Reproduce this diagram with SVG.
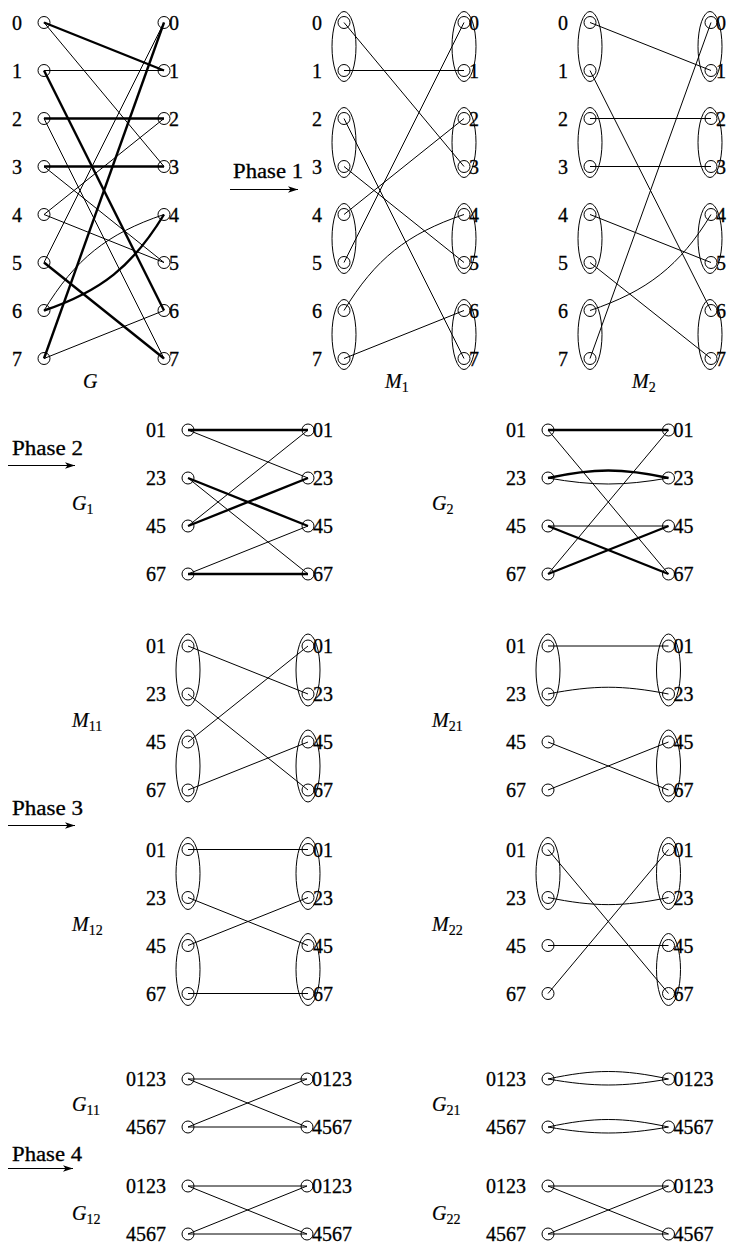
<svg xmlns="http://www.w3.org/2000/svg" width="734" height="1245" viewBox="0 0 734 1245">
<style>
  text { font-family: "Liberation Serif", "Times New Roman", serif; font-size: 20px; fill: #000; stroke: #000; stroke-width: 0.3px; }
  .lb { text-anchor: end; }
  .rb { text-anchor: start; }
  .it { font-style: italic; stroke-width: 0.2px; }
  .sub { font-size: 14px; font-style: normal; }
  .node circle { fill: none; stroke: #000; stroke-width: 1; }
  .grp { fill: none; stroke: #000; stroke-width: 1; }
  .e { fill: none; stroke: #000; stroke-width: 1; }
  .t { stroke-width: 2.4; }
  .ph { fill: none; stroke: #000; stroke-width: 1; }
</style>
<defs>
  <marker id="stealth" viewBox="-11 -4 12 8" markerWidth="12" markerHeight="8" refX="0" refY="0" orient="auto" markerUnits="userSpaceOnUse">
    <path d="M0,0 L-10,-3.2 L-7.5,0 L-10,3.2 Z" fill="#000"/>
  </marker>
</defs>
<rect width="734" height="1245" fill="#fff"/>

<!-- ===== Phase arrows ===== -->
<g id="phase-labels">
  <text x="233" y="178" textLength="70" lengthAdjust="spacingAndGlyphs">Phase 1</text>
  <text x="12" y="455" textLength="71" lengthAdjust="spacingAndGlyphs">Phase 2</text>
  <text x="12" y="815" textLength="71" lengthAdjust="spacingAndGlyphs">Phase 3</text>
  <text x="12" y="1161" textLength="70" lengthAdjust="spacingAndGlyphs">Phase 4</text>
</g>
<g id="phase-arrows">
  <line class="ph" x1="230" y1="189.5" x2="298" y2="189.5" marker-end="url(#stealth)"/>
  <line class="ph" x1="8" y1="465.5" x2="75" y2="465.5" marker-end="url(#stealth)"/>
  <line class="ph" x1="8" y1="825.5" x2="75" y2="825.5" marker-end="url(#stealth)"/>
  <line class="ph" x1="8" y1="1168.5" x2="73" y2="1168.5" marker-end="url(#stealth)"/>
</g>

<!-- ===== Graph names ===== -->
<g id="graph-names">
  <text class="it" x="83" y="388">G</text>
  <text class="it" x="385" y="388">M<tspan class="sub" dy="3.5">1</tspan></text>
  <text class="it" x="632" y="388">M<tspan class="sub" dy="3.5">2</tspan></text>
  <text class="it" x="72" y="510">G<tspan class="sub" dy="3.5">1</tspan></text>
  <text class="it" x="432" y="510">G<tspan class="sub" dy="3.5">2</tspan></text>
  <text class="it" x="72" y="727">M<tspan class="sub" dy="3.5">11</tspan></text>
  <text class="it" x="432" y="727">M<tspan class="sub" dy="3.5">21</tspan></text>
  <text class="it" x="72" y="931">M<tspan class="sub" dy="3.5">12</tspan></text>
  <text class="it" x="432" y="931">M<tspan class="sub" dy="3.5">22</tspan></text>
  <text class="it" x="72" y="1111">G<tspan class="sub" dy="3.5">11</tspan></text>
  <text class="it" x="432" y="1111">G<tspan class="sub" dy="3.5">21</tspan></text>
  <text class="it" x="72" y="1220">G<tspan class="sub" dy="3.5">12</tspan></text>
  <text class="it" x="432" y="1220">G<tspan class="sub" dy="3.5">22</tspan></text>
</g>

<!-- ===== Grouping ellipses ===== -->
<g id="groupings">
  <!-- M1 -->
  <ellipse class="grp" cx="344" cy="46.5" rx="12" ry="35"/>
  <ellipse class="grp" cx="344" cy="142.5" rx="12" ry="35"/>
  <ellipse class="grp" cx="344" cy="238.5" rx="12" ry="35"/>
  <ellipse class="grp" cx="344" cy="334.5" rx="12" ry="35"/>
  <ellipse class="grp" cx="464" cy="46.5" rx="12" ry="35"/>
  <ellipse class="grp" cx="464" cy="142.5" rx="12" ry="35"/>
  <ellipse class="grp" cx="464" cy="238.5" rx="12" ry="35"/>
  <ellipse class="grp" cx="464" cy="334.5" rx="12" ry="35"/>
  <!-- M2 -->
  <ellipse class="grp" cx="590" cy="46.5" rx="12" ry="35"/>
  <ellipse class="grp" cx="590" cy="142.5" rx="12" ry="35"/>
  <ellipse class="grp" cx="590" cy="238.5" rx="12" ry="35"/>
  <ellipse class="grp" cx="590" cy="334.5" rx="12" ry="35"/>
  <ellipse class="grp" cx="710" cy="46.5" rx="12" ry="35"/>
  <ellipse class="grp" cx="710" cy="142.5" rx="12" ry="35"/>
  <ellipse class="grp" cx="710" cy="238.5" rx="12" ry="35"/>
  <ellipse class="grp" cx="710" cy="334.5" rx="12" ry="35"/>
  <!-- M11 -->
  <ellipse class="grp" cx="188" cy="670" rx="12" ry="36"/>
  <ellipse class="grp" cx="188" cy="766" rx="12" ry="36"/>
  <ellipse class="grp" cx="308" cy="670" rx="12" ry="36"/>
  <ellipse class="grp" cx="308" cy="766" rx="12" ry="36"/>
  <!-- M12 -->
  <ellipse class="grp" cx="188" cy="873.5" rx="12" ry="36"/>
  <ellipse class="grp" cx="188" cy="969.5" rx="12" ry="36"/>
  <ellipse class="grp" cx="308" cy="873.5" rx="12" ry="36"/>
  <ellipse class="grp" cx="308" cy="969.5" rx="12" ry="36"/>
  <!-- M21 -->
  <ellipse class="grp" cx="548" cy="670" rx="12" ry="36"/>
  <ellipse class="grp" cx="668.5" cy="670" rx="12" ry="36"/>
  <ellipse class="grp" cx="668.5" cy="766" rx="12" ry="36"/>
  <!-- M22 -->
  <ellipse class="grp" cx="548" cy="873.5" rx="12" ry="36"/>
  <ellipse class="grp" cx="668.5" cy="873.5" rx="12" ry="36"/>
  <ellipse class="grp" cx="668.5" cy="969.5" rx="12" ry="36"/>
</g>

<!-- ===== Connectors ===== -->
<g id="connectors">
  <!-- G -->
  <path class="e" d="M44,22.5 L164,166.5"/>
  <path class="e" d="M44,70.5 L164,70.5"/>
  <path class="e" d="M44,118.5 L164,358.5"/>
  <path class="e" d="M44,166.5 L164,262.5"/>
  <path class="e" d="M44,214.5 L164,118.5"/>
  <path class="e" d="M44,214.5 L164,262.5"/>
  <path class="e" d="M44,262.5 L164,22.5"/>
  <path class="e" d="M44,310.5 C75.3,259 106.9,233.8 164,214.5"/>
  <path class="e" d="M44,358.5 L164,310.5"/>
  <path class="e t" d="M44,22.5 L164,70.5"/>
  <path class="e t" d="M44,70.5 L164,310.5"/>
  <path class="e t" d="M44,118.5 L164,118.5"/>
  <path class="e t" d="M44,166.5 L164,166.5"/>
  <path class="e t" d="M44,262.5 L164,358.5"/>
  <path class="e t" d="M44,310.5 C101.1,291.2 132.7,266 164,214.5"/>
  <path class="e t" d="M44,358.5 L164,22.5"/>
  <!-- M1 -->
  <path class="e" d="M344,22.5 L464,166.5"/>
  <path class="e" d="M344,70.5 L464,70.5"/>
  <path class="e" d="M344,118.5 L464,358.5"/>
  <path class="e" d="M344,166.5 L464,262.5"/>
  <path class="e" d="M344,214.5 L464,118.5"/>
  <path class="e" d="M344,262.5 L464,22.5"/>
  <path class="e" d="M344,310.5 C375.3,259 406.9,233.8 464,214.5"/>
  <path class="e" d="M344,358.5 L464,310.5"/>
  <!-- M2 -->
  <path class="e" d="M590,22.5 L711,70.5"/>
  <path class="e" d="M590,70.5 L711,310.5"/>
  <path class="e" d="M590,118.5 L711,118.5"/>
  <path class="e" d="M590,166.5 L711,166.5"/>
  <path class="e" d="M590,214.5 L711,262.5"/>
  <path class="e" d="M590,262.5 L711,358.5"/>
  <path class="e" d="M590,310.5 C647.1,291.2 679.7,266 711,214.5"/>
  <path class="e" d="M590,358.5 L711,22.5"/>
  <!-- G1 -->
  <path class="e t" d="M188,430 L308,430"/>
  <path class="e t" d="M188,478 L308,526"/>
  <path class="e t" d="M188,526 L308,478"/>
  <path class="e t" d="M188,574 L308,574"/>
  <path class="e" d="M188,430 L308,478"/>
  <path class="e" d="M188,478 L308,574"/>
  <path class="e" d="M188,526 L308,430"/>
  <path class="e" d="M188,574 L308,526"/>
  <!-- G2 -->
  <path class="e t" d="M548,430 L668.5,430"/>
  <path class="e t" d="M548,478 C594,468 622.5,468 668.5,478"/>
  <path class="e t" d="M548,526 L668.5,574"/>
  <path class="e t" d="M548,574 L668.5,526"/>
  <path class="e" d="M548,430 L668.5,574"/>
  <path class="e" d="M548,478 C594,486 622.5,486 668.5,478"/>
  <path class="e" d="M548,526 L668.5,526"/>
  <path class="e" d="M548,574 L668.5,430"/>
  <!-- M11 -->
  <path class="e" d="M188,646 L308,694"/>
  <path class="e" d="M188,694 L308,790"/>
  <path class="e" d="M188,742 L308,646"/>
  <path class="e" d="M188,790 L308,742"/>
  <!-- M12 -->
  <path class="e" d="M188,849.5 L308,849.5"/>
  <path class="e" d="M188,897.5 L308,945.5"/>
  <path class="e" d="M188,945.5 L308,897.5"/>
  <path class="e" d="M188,993.5 L308,993.5"/>
  <!-- M21 -->
  <path class="e" d="M548,646 L668.5,646"/>
  <path class="e" d="M548,694 C594,685 622.5,685 668.5,694"/>
  <path class="e" d="M548,742 L668.5,790"/>
  <path class="e" d="M548,790 L668.5,742"/>
  <!-- M22 -->
  <path class="e" d="M548,849.5 L668.5,993.5"/>
  <path class="e" d="M548,897.5 C594,907 622.5,907 668.5,897.5"/>
  <path class="e" d="M548,945.5 L668.5,945.5"/>
  <path class="e" d="M548,993.5 L668.5,849.5"/>
  <!-- G11 -->
  <path class="e" d="M188,1079 L307,1079"/>
  <path class="e" d="M188,1079 L307,1127"/>
  <path class="e" d="M188,1127 L307,1079"/>
  <path class="e" d="M188,1127 L307,1127"/>
  <!-- G12 -->
  <path class="e" d="M188,1186 L307,1186"/>
  <path class="e" d="M188,1186 L307,1234"/>
  <path class="e" d="M188,1234 L307,1186"/>
  <path class="e" d="M188,1234 L307,1234"/>
  <!-- G21 -->
  <path class="e" d="M548,1079 C594,1069 622.5,1069 668.5,1079"/>
  <path class="e" d="M548,1079 C594,1087 622.5,1087 668.5,1079"/>
  <path class="e" d="M548,1127 C594,1117 622.5,1117 668.5,1127"/>
  <path class="e" d="M548,1127 C594,1135 622.5,1135 668.5,1127"/>
  <!-- G22 -->
  <path class="e" d="M548,1186 L668.5,1186"/>
  <path class="e" d="M548,1186 L668.5,1234"/>
  <path class="e" d="M548,1234 L668.5,1186"/>
  <path class="e" d="M548,1234 L668.5,1234"/>
</g>

<!-- ===== Nodes: G ===== -->
<g id="G-L0" class="node"><circle cx="44" cy="22.5" r="6"/><text class="lb" x="22" y="29.5">0</text></g>
<g id="G-L1" class="node"><circle cx="44" cy="70.5" r="6"/><text class="lb" x="22" y="77.5">1</text></g>
<g id="G-L2" class="node"><circle cx="44" cy="118.5" r="6"/><text class="lb" x="22" y="125.5">2</text></g>
<g id="G-L3" class="node"><circle cx="44" cy="166.5" r="6"/><text class="lb" x="22" y="173.5">3</text></g>
<g id="G-L4" class="node"><circle cx="44" cy="214.5" r="6"/><text class="lb" x="22" y="221.5">4</text></g>
<g id="G-L5" class="node"><circle cx="44" cy="262.5" r="6"/><text class="lb" x="22" y="269.5">5</text></g>
<g id="G-L6" class="node"><circle cx="44" cy="310.5" r="6"/><text class="lb" x="22" y="317.5">6</text></g>
<g id="G-L7" class="node"><circle cx="44" cy="358.5" r="6"/><text class="lb" x="22" y="365.5">7</text></g>
<g id="G-R0" class="node"><circle cx="164" cy="22.5" r="6"/><text class="rb" x="169" y="29.5">0</text></g>
<g id="G-R1" class="node"><circle cx="164" cy="70.5" r="6"/><text class="rb" x="169" y="77.5">1</text></g>
<g id="G-R2" class="node"><circle cx="164" cy="118.5" r="6"/><text class="rb" x="169" y="125.5">2</text></g>
<g id="G-R3" class="node"><circle cx="164" cy="166.5" r="6"/><text class="rb" x="169" y="173.5">3</text></g>
<g id="G-R4" class="node"><circle cx="164" cy="214.5" r="6"/><text class="rb" x="169" y="221.5">4</text></g>
<g id="G-R5" class="node"><circle cx="164" cy="262.5" r="6"/><text class="rb" x="169" y="269.5">5</text></g>
<g id="G-R6" class="node"><circle cx="164" cy="310.5" r="6"/><text class="rb" x="169" y="317.5">6</text></g>
<g id="G-R7" class="node"><circle cx="164" cy="358.5" r="6"/><text class="rb" x="169" y="365.5">7</text></g>

<!-- ===== Nodes: M1 ===== -->
<g id="M1-L0" class="node"><circle cx="344" cy="22.5" r="6"/><text class="lb" x="322" y="29.5">0</text></g>
<g id="M1-L1" class="node"><circle cx="344" cy="70.5" r="6"/><text class="lb" x="322" y="77.5">1</text></g>
<g id="M1-L2" class="node"><circle cx="344" cy="118.5" r="6"/><text class="lb" x="322" y="125.5">2</text></g>
<g id="M1-L3" class="node"><circle cx="344" cy="166.5" r="6"/><text class="lb" x="322" y="173.5">3</text></g>
<g id="M1-L4" class="node"><circle cx="344" cy="214.5" r="6"/><text class="lb" x="322" y="221.5">4</text></g>
<g id="M1-L5" class="node"><circle cx="344" cy="262.5" r="6"/><text class="lb" x="322" y="269.5">5</text></g>
<g id="M1-L6" class="node"><circle cx="344" cy="310.5" r="6"/><text class="lb" x="322" y="317.5">6</text></g>
<g id="M1-L7" class="node"><circle cx="344" cy="358.5" r="6"/><text class="lb" x="322" y="365.5">7</text></g>
<g id="M1-R0" class="node"><circle cx="464" cy="22.5" r="6"/><text class="rb" x="469" y="29.5">0</text></g>
<g id="M1-R1" class="node"><circle cx="464" cy="70.5" r="6"/><text class="rb" x="469" y="77.5">1</text></g>
<g id="M1-R2" class="node"><circle cx="464" cy="118.5" r="6"/><text class="rb" x="469" y="125.5">2</text></g>
<g id="M1-R3" class="node"><circle cx="464" cy="166.5" r="6"/><text class="rb" x="469" y="173.5">3</text></g>
<g id="M1-R4" class="node"><circle cx="464" cy="214.5" r="6"/><text class="rb" x="469" y="221.5">4</text></g>
<g id="M1-R5" class="node"><circle cx="464" cy="262.5" r="6"/><text class="rb" x="469" y="269.5">5</text></g>
<g id="M1-R6" class="node"><circle cx="464" cy="310.5" r="6"/><text class="rb" x="469" y="317.5">6</text></g>
<g id="M1-R7" class="node"><circle cx="464" cy="358.5" r="6"/><text class="rb" x="469" y="365.5">7</text></g>

<!-- ===== Nodes: M2 ===== -->
<g id="M2-L0" class="node"><circle cx="590" cy="22.5" r="6"/><text class="lb" x="568" y="29.5">0</text></g>
<g id="M2-L1" class="node"><circle cx="590" cy="70.5" r="6"/><text class="lb" x="568" y="77.5">1</text></g>
<g id="M2-L2" class="node"><circle cx="590" cy="118.5" r="6"/><text class="lb" x="568" y="125.5">2</text></g>
<g id="M2-L3" class="node"><circle cx="590" cy="166.5" r="6"/><text class="lb" x="568" y="173.5">3</text></g>
<g id="M2-L4" class="node"><circle cx="590" cy="214.5" r="6"/><text class="lb" x="568" y="221.5">4</text></g>
<g id="M2-L5" class="node"><circle cx="590" cy="262.5" r="6"/><text class="lb" x="568" y="269.5">5</text></g>
<g id="M2-L6" class="node"><circle cx="590" cy="310.5" r="6"/><text class="lb" x="568" y="317.5">6</text></g>
<g id="M2-L7" class="node"><circle cx="590" cy="358.5" r="6"/><text class="lb" x="568" y="365.5">7</text></g>
<g id="M2-R0" class="node"><circle cx="711" cy="22.5" r="6"/><text class="rb" x="716" y="29.5">0</text></g>
<g id="M2-R1" class="node"><circle cx="711" cy="70.5" r="6"/><text class="rb" x="716" y="77.5">1</text></g>
<g id="M2-R2" class="node"><circle cx="711" cy="118.5" r="6"/><text class="rb" x="716" y="125.5">2</text></g>
<g id="M2-R3" class="node"><circle cx="711" cy="166.5" r="6"/><text class="rb" x="716" y="173.5">3</text></g>
<g id="M2-R4" class="node"><circle cx="711" cy="214.5" r="6"/><text class="rb" x="716" y="221.5">4</text></g>
<g id="M2-R5" class="node"><circle cx="711" cy="262.5" r="6"/><text class="rb" x="716" y="269.5">5</text></g>
<g id="M2-R6" class="node"><circle cx="711" cy="310.5" r="6"/><text class="rb" x="716" y="317.5">6</text></g>
<g id="M2-R7" class="node"><circle cx="711" cy="358.5" r="6"/><text class="rb" x="716" y="365.5">7</text></g>

<!-- ===== Nodes: G1 ===== -->
<g id="G1-L01" class="node"><circle cx="188" cy="430" r="6"/><text class="lb" x="166" y="437">01</text></g>
<g id="G1-L23" class="node"><circle cx="188" cy="478" r="6"/><text class="lb" x="166" y="485">23</text></g>
<g id="G1-L45" class="node"><circle cx="188" cy="526" r="6"/><text class="lb" x="166" y="533">45</text></g>
<g id="G1-L67" class="node"><circle cx="188" cy="574" r="6"/><text class="lb" x="166" y="581">67</text></g>
<g id="G1-R01" class="node"><circle cx="308" cy="430" r="6"/><text class="rb" x="313" y="437">01</text></g>
<g id="G1-R23" class="node"><circle cx="308" cy="478" r="6"/><text class="rb" x="313" y="485">23</text></g>
<g id="G1-R45" class="node"><circle cx="308" cy="526" r="6"/><text class="rb" x="313" y="533">45</text></g>
<g id="G1-R67" class="node"><circle cx="308" cy="574" r="6"/><text class="rb" x="313" y="581">67</text></g>

<!-- ===== Nodes: G2 ===== -->
<g id="G2-L01" class="node"><circle cx="548" cy="430" r="6"/><text class="lb" x="526" y="437">01</text></g>
<g id="G2-L23" class="node"><circle cx="548" cy="478" r="6"/><text class="lb" x="526" y="485">23</text></g>
<g id="G2-L45" class="node"><circle cx="548" cy="526" r="6"/><text class="lb" x="526" y="533">45</text></g>
<g id="G2-L67" class="node"><circle cx="548" cy="574" r="6"/><text class="lb" x="526" y="581">67</text></g>
<g id="G2-R01" class="node"><circle cx="668.5" cy="430" r="6"/><text class="rb" x="673.5" y="437">01</text></g>
<g id="G2-R23" class="node"><circle cx="668.5" cy="478" r="6"/><text class="rb" x="673.5" y="485">23</text></g>
<g id="G2-R45" class="node"><circle cx="668.5" cy="526" r="6"/><text class="rb" x="673.5" y="533">45</text></g>
<g id="G2-R67" class="node"><circle cx="668.5" cy="574" r="6"/><text class="rb" x="673.5" y="581">67</text></g>

<!-- ===== Nodes: M11 ===== -->
<g id="M11-L01" class="node"><circle cx="188" cy="646" r="6"/><text class="lb" x="166" y="653">01</text></g>
<g id="M11-L23" class="node"><circle cx="188" cy="694" r="6"/><text class="lb" x="166" y="701">23</text></g>
<g id="M11-L45" class="node"><circle cx="188" cy="742" r="6"/><text class="lb" x="166" y="749">45</text></g>
<g id="M11-L67" class="node"><circle cx="188" cy="790" r="6"/><text class="lb" x="166" y="797">67</text></g>
<g id="M11-R01" class="node"><circle cx="308" cy="646" r="6"/><text class="rb" x="313" y="653">01</text></g>
<g id="M11-R23" class="node"><circle cx="308" cy="694" r="6"/><text class="rb" x="313" y="701">23</text></g>
<g id="M11-R45" class="node"><circle cx="308" cy="742" r="6"/><text class="rb" x="313" y="749">45</text></g>
<g id="M11-R67" class="node"><circle cx="308" cy="790" r="6"/><text class="rb" x="313" y="797">67</text></g>

<!-- ===== Nodes: M12 ===== -->
<g id="M12-L01" class="node"><circle cx="188" cy="849.5" r="6"/><text class="lb" x="166" y="856.5">01</text></g>
<g id="M12-L23" class="node"><circle cx="188" cy="897.5" r="6"/><text class="lb" x="166" y="904.5">23</text></g>
<g id="M12-L45" class="node"><circle cx="188" cy="945.5" r="6"/><text class="lb" x="166" y="952.5">45</text></g>
<g id="M12-L67" class="node"><circle cx="188" cy="993.5" r="6"/><text class="lb" x="166" y="1000.5">67</text></g>
<g id="M12-R01" class="node"><circle cx="308" cy="849.5" r="6"/><text class="rb" x="313" y="856.5">01</text></g>
<g id="M12-R23" class="node"><circle cx="308" cy="897.5" r="6"/><text class="rb" x="313" y="904.5">23</text></g>
<g id="M12-R45" class="node"><circle cx="308" cy="945.5" r="6"/><text class="rb" x="313" y="952.5">45</text></g>
<g id="M12-R67" class="node"><circle cx="308" cy="993.5" r="6"/><text class="rb" x="313" y="1000.5">67</text></g>

<!-- ===== Nodes: M21 ===== -->
<g id="M21-L01" class="node"><circle cx="548" cy="646" r="6"/><text class="lb" x="526" y="653">01</text></g>
<g id="M21-L23" class="node"><circle cx="548" cy="694" r="6"/><text class="lb" x="526" y="701">23</text></g>
<g id="M21-L45" class="node"><circle cx="548" cy="742" r="6"/><text class="lb" x="526" y="749">45</text></g>
<g id="M21-L67" class="node"><circle cx="548" cy="790" r="6"/><text class="lb" x="526" y="797">67</text></g>
<g id="M21-R01" class="node"><circle cx="668.5" cy="646" r="6"/><text class="rb" x="673.5" y="653">01</text></g>
<g id="M21-R23" class="node"><circle cx="668.5" cy="694" r="6"/><text class="rb" x="673.5" y="701">23</text></g>
<g id="M21-R45" class="node"><circle cx="668.5" cy="742" r="6"/><text class="rb" x="673.5" y="749">45</text></g>
<g id="M21-R67" class="node"><circle cx="668.5" cy="790" r="6"/><text class="rb" x="673.5" y="797">67</text></g>

<!-- ===== Nodes: M22 ===== -->
<g id="M22-L01" class="node"><circle cx="548" cy="849.5" r="6"/><text class="lb" x="526" y="856.5">01</text></g>
<g id="M22-L23" class="node"><circle cx="548" cy="897.5" r="6"/><text class="lb" x="526" y="904.5">23</text></g>
<g id="M22-L45" class="node"><circle cx="548" cy="945.5" r="6"/><text class="lb" x="526" y="952.5">45</text></g>
<g id="M22-L67" class="node"><circle cx="548" cy="993.5" r="6"/><text class="lb" x="526" y="1000.5">67</text></g>
<g id="M22-R01" class="node"><circle cx="668.5" cy="849.5" r="6"/><text class="rb" x="673.5" y="856.5">01</text></g>
<g id="M22-R23" class="node"><circle cx="668.5" cy="897.5" r="6"/><text class="rb" x="673.5" y="904.5">23</text></g>
<g id="M22-R45" class="node"><circle cx="668.5" cy="945.5" r="6"/><text class="rb" x="673.5" y="952.5">45</text></g>
<g id="M22-R67" class="node"><circle cx="668.5" cy="993.5" r="6"/><text class="rb" x="673.5" y="1000.5">67</text></g>

<!-- ===== Nodes: G11 / G12 ===== -->
<g id="G11-L0123" class="node"><circle cx="188" cy="1079" r="6"/><text class="lb" x="166" y="1086">0123</text></g>
<g id="G11-L4567" class="node"><circle cx="188" cy="1127" r="6"/><text class="lb" x="166" y="1134">4567</text></g>
<g id="G11-R0123" class="node"><circle cx="307" cy="1079" r="6"/><text class="rb" x="312" y="1086">0123</text></g>
<g id="G11-R4567" class="node"><circle cx="307" cy="1127" r="6"/><text class="rb" x="312" y="1134">4567</text></g>
<g id="G12-L0123" class="node"><circle cx="188" cy="1186" r="6"/><text class="lb" x="166" y="1193">0123</text></g>
<g id="G12-L4567" class="node"><circle cx="188" cy="1234" r="6"/><text class="lb" x="166" y="1241">4567</text></g>
<g id="G12-R0123" class="node"><circle cx="307" cy="1186" r="6"/><text class="rb" x="312" y="1193">0123</text></g>
<g id="G12-R4567" class="node"><circle cx="307" cy="1234" r="6"/><text class="rb" x="312" y="1241">4567</text></g>

<!-- ===== Nodes: G21 / G22 ===== -->
<g id="G21-L0123" class="node"><circle cx="548" cy="1079" r="6"/><text class="lb" x="526" y="1086">0123</text></g>
<g id="G21-L4567" class="node"><circle cx="548" cy="1127" r="6"/><text class="lb" x="526" y="1134">4567</text></g>
<g id="G21-R0123" class="node"><circle cx="668.5" cy="1079" r="6"/><text class="rb" x="673.5" y="1086">0123</text></g>
<g id="G21-R4567" class="node"><circle cx="668.5" cy="1127" r="6"/><text class="rb" x="673.5" y="1134">4567</text></g>
<g id="G22-L0123" class="node"><circle cx="548" cy="1186" r="6"/><text class="lb" x="526" y="1193">0123</text></g>
<g id="G22-L4567" class="node"><circle cx="548" cy="1234" r="6"/><text class="lb" x="526" y="1241">4567</text></g>
<g id="G22-R0123" class="node"><circle cx="668.5" cy="1186" r="6"/><text class="rb" x="673.5" y="1193">0123</text></g>
<g id="G22-R4567" class="node"><circle cx="668.5" cy="1234" r="6"/><text class="rb" x="673.5" y="1241">4567</text></g>
</svg>
